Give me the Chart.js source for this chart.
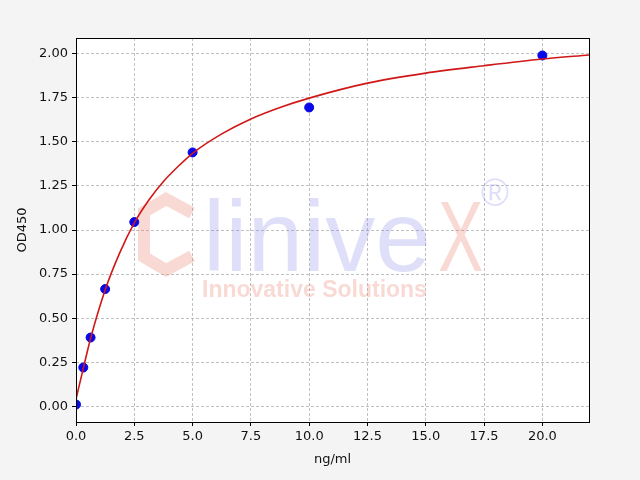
<!DOCTYPE html>
<html>
<head>
<meta charset="utf-8">
<script src="https://cdn.jsdelivr.net/npm/chart.js@4"></script>
<style>
  html, body { margin: 0; padding: 0; background: #f4f4f4; }
  #wrap { width: 640px; height: 480px; }
</style>
</head>
<body>
<div id="wrap"><canvas id="myChart" width="640" height="480"></canvas></div>
<script>
// standard points
const concentrations = [0, 0.3125, 0.625, 1.25, 2.5, 5, 10, 20];
const od450 = [0.01, 0.22, 0.39, 0.665, 1.045, 1.44, 1.695, 1.99];

// fitted curve
const fitX = [0, 0.3125, 0.625, 1.25, 1.875, 2.5, 3.125, 3.75, 4.375, 5, 6.25, 7.5, 8.75, 10, 12.5, 15, 17.5, 20, 22];
const fitY = [0.04, 0.215, 0.385, 0.66, 0.87, 1.04, 1.17, 1.275, 1.36, 1.435, 1.545, 1.63, 1.695, 1.748, 1.833, 1.89, 1.932, 1.97, 1.993];

const xTickStep = 2.5;
const yTickStep = 0.25;

window.addEventListener('load', function(){

    function toPoints(xs, ys){
        let list = [];
        xs.forEach((x, i) => {
            list = list.concat({x: x, y: ys[i]});
        });
        return list;
    }

    // background, white plot area and the watermark
    const backdrop = {
        id: 'backdrop',
        beforeDraw(chart){
            const c = chart.ctx, a = chart.chartArea;
            c.save();
            c.fillStyle = '#f4f4f4';
            c.fillRect(0, 0, chart.width, chart.height);
            c.fillStyle = '#ffffff';
            c.fillRect(a.left, a.top, a.right - a.left, a.bottom - a.top);
            c.restore();
        },
        beforeDatasetsDraw(chart){
            const c = chart.ctx;
            const salmon = 'rgba(230,120,100,0.28)';
            const lavender = 'rgba(120,120,230,0.24)';
            c.save();
            // hexagon "C"
            c.strokeStyle = salmon;
            c.lineWidth = 12;
            c.lineJoin = 'miter';
            c.beginPath();
            c.moveTo(192, 213);
            c.lineTo(166, 199);
            c.lineTo(144, 212);
            c.lineTo(144, 257);
            c.lineTo(166, 270);
            c.lineTo(192, 256);
            c.stroke();
            // "linive"
            c.fillStyle = lavender;
            c.font = '100px "Liberation Sans", Arial, sans-serif';
            c.textBaseline = 'alphabetic';
            c.textAlign = 'left';
            c.fillText('linive', 203, 271, 232);
            // "X"
            c.fillStyle = salmon;
            c.save();
            c.translate(438, 271);
            c.scale(0.68, 1);
            c.fillText('X', 0, 0);
            c.restore();
            // registered mark
            c.fillStyle = lavender;
            c.font = '38px "Liberation Sans", Arial, sans-serif';
            c.fillText('\u00AE', 481, 206);
            // tag line
            c.fillStyle = salmon;
            c.font = 'bold 23px "Liberation Sans", Arial, sans-serif';
            c.fillText('Innovative Solutions', 202, 297, 242);
            c.restore();
        },
        afterDraw(chart){
            const c = chart.ctx, a = chart.chartArea;
            c.save();
            c.strokeStyle = '#000';
            c.lineWidth = 1;
            c.strokeRect(Math.round(a.left) + 0.5, Math.round(a.top) + 0.5,
                Math.round(a.right - a.left), Math.round(a.bottom - a.top));
            c.restore();
        }
    };

    Chart.defaults.font.family = '"DejaVu Sans", sans-serif';
    Chart.defaults.font.size = 13;
    Chart.defaults.color = '#111';

    const gridOpts = {
        color: '#b0b0b0',
        lineWidth: 0.8,
        drawTicks: true,
        tickLength: 4,
        tickColor: '#000',
        tickWidth: 1,
        tickBorderDash: []
    };

    var ctx = document.getElementById('myChart').getContext('2d');
    var chart = new Chart(ctx, {
        type: 'scatter',
        data: {
            datasets: [{
                label: 'fit',
                data: toPoints(fitX, fitY),
                showLine: true,
                borderColor: '#d01818',
                borderWidth: 1.6,
                pointRadius: 0,
                cubicInterpolationMode: 'monotone',
                order: 0
            }, {
                label: 'standards',
                data: toPoints(concentrations, od450),
                backgroundColor: '#0808e8',
                borderColor: '#0808e8',
                pointRadius: 4.5,
                order: 1
            }]
        },
        options: {
            responsive: false,
            animation: false,
            layout: { padding: { left: 0, right: 51, top: 38, bottom: 0 } },
            plugins: { legend: { display: false }, tooltip: { enabled: false } },
            scales: {
                x: {
                    type: 'linear',
                    min: 0,
                    max: 22,
                    grid: gridOpts,
                    border: { display: false, dash: [3, 2] },
                    ticks: {
                        stepSize: xTickStep,
                        includeBounds: false,
                        padding: 3,
                        maxRotation: 0,
                        callback: v => v.toFixed(1)
                    },
                    title: { display: true, text: 'ng/ml', padding: { top: 4, bottom: 13 } },
                    afterFit(scale){ scale.height = 58; }
                },
                y: {
                    type: 'linear',
                    min: -0.089,
                    max: 2.089,
                    grid: gridOpts,
                    border: { display: false, dash: [3, 2] },
                    ticks: {
                        stepSize: yTickStep,
                        includeBounds: false,
                        padding: 4,
                        callback: v => v.toFixed(2)
                    },
                    title: { display: true, text: 'OD450', padding: { top: 15, bottom: 4 } },
                    afterFit(scale){ scale.width = 76; }
                }
            }
        },
        plugins: [backdrop]
    });
});
</script>
</body>
</html>
